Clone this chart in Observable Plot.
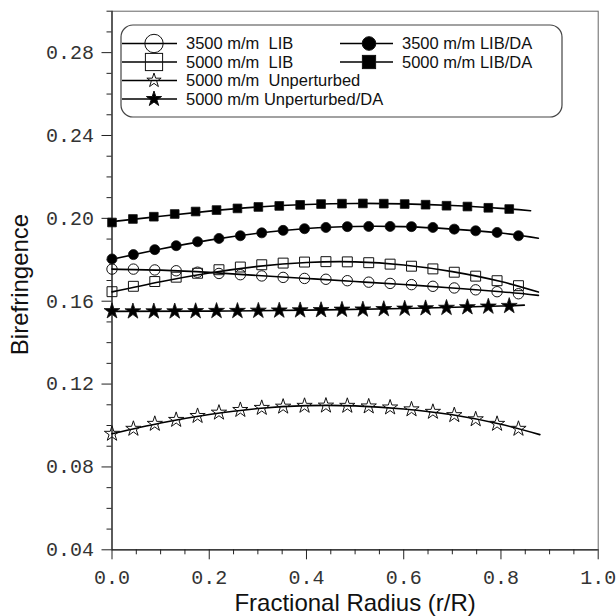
<!DOCTYPE html>
<html><head><meta charset="utf-8">
<script src="https://cdn.jsdelivr.net/npm/d3@7"></script>
<script src="https://cdn.jsdelivr.net/npm/@observablehq/plot@0.6"></script>
<style>
html,body{margin:0;padding:0;background:#fff;}
#wrap{position:relative;width:616px;height:616px;}
#legend{position:absolute;left:0;top:0;pointer-events:none;}
</style></head><body><div id="wrap"></div>
<script>
// ---- data ----
const seriesLabels = ["3500 m/m  LIB", "5000 m/m  LIB", "5000 m/m  Unperturbed", "5000 m/m Unperturbed/DA", "3500 m/m LIB/DA", "5000 m/m LIB/DA"];
const xLIB = [0.000,0.044,0.088,0.132,0.176,0.220,0.264,0.308,0.352,0.396,0.440,0.484,0.528,0.572,0.616,0.660,0.704,0.748,0.792,0.836];
const xDA  = [0.000,0.043,0.086,0.129,0.172,0.215,0.258,0.301,0.344,0.387,0.430,0.473,0.516,0.559,0.602,0.645,0.688,0.731,0.774,0.817];
const yLIB3500   = [0.1755,0.1755,0.1751,0.1747,0.1740,0.1734,0.1728,0.1722,0.1715,0.1710,0.1706,0.1699,0.1692,0.1686,0.1680,0.1672,0.1664,0.1655,0.1646,0.1636];
const yLIB5000   = [0.1646,0.1672,0.1695,0.1716,0.1735,0.1752,0.1765,0.1776,0.1784,0.1789,0.1791,0.1790,0.1786,0.1779,0.1769,0.1756,0.1740,0.1721,0.1699,0.1675];
const yUnpert    = [0.0960,0.0984,0.1008,0.1027,0.1046,0.1062,0.1075,0.1085,0.1091,0.1095,0.1096,0.1095,0.1092,0.1087,0.1078,0.1066,0.1050,0.1030,0.1008,0.0984];
const yUnpertDA  = [0.1552,0.1551,0.1551,0.1551,0.1552,0.1553,0.1553,0.1554,0.1555,0.1556,0.1557,0.1559,0.1560,0.1562,0.1564,0.1566,0.1568,0.1571,0.1574,0.1577];
const yDA3500    = [0.1804,0.1825,0.1849,0.1868,0.1887,0.1903,0.1916,0.1930,0.1942,0.1950,0.1956,0.1960,0.1961,0.1961,0.1960,0.1956,0.1948,0.1940,0.1932,0.1916];
const yDA5000    = [0.1980,0.1997,0.2008,0.2021,0.2033,0.2040,0.2048,0.2055,0.2060,0.2065,0.2069,0.2071,0.2072,0.2071,0.2069,0.2066,0.2061,0.2057,0.2051,0.2045];
// fitted curves
const fitXLIB3500 = [0,0.1,0.2,0.3,0.4,0.5,0.6,0.7,0.8,0.877];
const fitYLIB3500 = [0.1755,0.1750,0.1739,0.1724,0.1710,0.1695,0.1681,0.1664,0.1646,0.1628];
const fitXLIB5000 = [0,0.1,0.2,0.3,0.4,0.5,0.6,0.7,0.8,0.877];
const fitYLIB5000 = [0.1645,0.1694,0.1736,0.1768,0.1787,0.1790,0.1775,0.1743,0.1695,0.1644];
const fitXUnpert  = [0,0.1,0.2,0.3,0.4,0.5,0.6,0.7,0.8,0.880];
const fitYUnpert  = [0.0960,0.1012,0.1053,0.1082,0.1096,0.1095,0.1080,0.1052,0.1006,0.0956];
const fitXUnpertDA = [0,0.2,0.4,0.6,0.8,0.848];
const fitYUnpertDA = [0.1551,0.1552,0.1557,0.1565,0.1577,0.1581];
const fitXDA3500  = [0,0.1,0.2,0.3,0.4,0.5,0.6,0.7,0.8,0.877];
const fitYDA3500  = [0.1803,0.1852,0.1895,0.1928,0.1951,0.1961,0.1960,0.1948,0.1929,0.1904];
const fitXDA5000  = [0,0.1,0.2,0.3,0.4,0.5,0.6,0.7,0.8,0.861];
const fitYDA5000  = [0.1984,0.2010,0.2035,0.2055,0.2067,0.2072,0.2070,0.2062,0.2048,0.2037];
const xMajorTicks = [0.0,0.2,0.4,0.6,0.8,1.0];
const xMinorTicks = [0.05,0.1,0.15,0.25,0.3,0.35,0.45,0.5,0.55,0.65,0.7,0.75,0.85,0.9,0.95];
const yMajorTicks = [0.04,0.08,0.12,0.16,0.20,0.24,0.28];
const yMinorTicks = [0.05,0.06,0.07,0.09,0.10,0.11,0.13,0.14,0.15,0.17,0.18,0.19,0.21,0.22,0.23,0.25,0.26,0.27,0.29,0.30];
const xTitle = "Fractional Radius (r/R)";
const yTitle = "Birefringence";

// ---- series styling ----
const series = [
  {label: seriesLabels[0], x: xLIB, y: yLIB3500, fx: fitXLIB3500, fy: fitYLIB3500, symbol: "circle", filled: false, r: 5.2},
  {label: seriesLabels[1], x: xLIB, y: yLIB5000, fx: fitXLIB5000, fy: fitYLIB5000, symbol: "square", filled: false, r: 5.6},
  {label: seriesLabels[2], x: xLIB, y: yUnpert, fx: fitXUnpert, fy: fitYUnpert, symbol: "star", filled: false, r: 4.8},
  {label: seriesLabels[3], x: xDA, y: yUnpertDA, fx: fitXUnpertDA, fy: fitYUnpertDA, symbol: "star", filled: true, r: 5.0},
  {label: seriesLabels[4], x: xLIB, y: yDA3500, fx: fitXDA3500, fy: fitYDA3500, symbol: "circle", filled: true, r: 5.0},
  {label: seriesLabels[5], x: xDA, y: yDA5000, fx: fitXDA5000, fy: fitYDA5000, symbol: "square", filled: true, r: 4.9}
];
const fits = series.flatMap(s => s.fx.map((x, i) => ({s: s.label, x, y: s.fy[i]})));

const mono = "'Liberation Mono', 'Courier New', monospace";
const sans = "'Liberation Sans', Arial, Helvetica, sans-serif";

const marks = [
  Plot.frame({stroke: "#666", strokeWidth: 1}),
  Plot.ruleX([0], {stroke: "#222", strokeWidth: 1.2}),
  Plot.ruleY([0.04], {stroke: "#222", strokeWidth: 1.2}),
  Plot.axisX({ticks: xMinorTicks, tickSize: 5, tickFormat: () => "", label: null, stroke: "#222"}),
  Plot.axisX({ticks: xMajorTicks, tickSize: 10, tickPadding: 10, tickFormat: d3.format(".1f"), label: null,
    fontSize: 20, fontFamily: mono, fill: "#333", stroke: "#222"}),
  Plot.axisY({ticks: yMinorTicks, tickSize: 5, tickFormat: () => "", label: null, stroke: "#222"}),
  Plot.axisY({ticks: yMajorTicks, tickSize: 10, tickPadding: 8, tickFormat: d3.format(".2f"), label: null,
    fontSize: 20, fontFamily: mono, fill: "#333", stroke: "#222"}),
  Plot.line(fits, {x: "x", y: "y", z: "s", curve: "natural", stroke: "black", strokeWidth: 1.6}),
  ...series.map(s => Plot.dot(s.x.map((x, i) => ({x, y: s.y[i]})), {
    x: "x", y: "y", symbol: s.symbol, r: s.r,
    fill: s.filled ? "black" : "none", stroke: "#111", strokeWidth: s.filled ? 0.8 : 1
  })),
  Plot.text([yTitle], {frameAnchor: "left", dx: -92, dy: 4, rotate: -90, textAnchor: "middle", lineAnchor: "middle",
    fontSize: 24, fontFamily: sans, fill: "#111"}),
  Plot.text([xTitle], {frameAnchor: "bottom", dy: 54, textAnchor: "middle", lineAnchor: "middle",
    fontSize: 24, fontFamily: sans, fill: "#111"})
];

const chart = Plot.plot({
  width: 616, height: 616,
  marginLeft: 111.5, marginRight: 18.3, marginTop: 10.7, marginBottom: 66.7,
  x: {domain: [0, 1]},
  y: {domain: [0.04, 0.30]},
  style: {background: "white", overflow: "visible"},
  marks
});
document.getElementById("wrap").appendChild(chart);

// ---- legend overlay ----
const lg = d3.select("#wrap").append("svg").attr("id", "legend").attr("width", 616).attr("height", 130);
lg.append("rect").attr("x", 121).attr("y", 25).attr("width", 441).attr("height", 92).attr("rx", 12)
  .attr("fill", "white").attr("stroke", "#444").attr("stroke-width", 1.2);
const legendPos = [
  {lx1: 122, lx2: 177, sx: 154, tx: 186, y: 43.5, size: 9.2},
  {lx1: 122, lx2: 177, sx: 154, tx: 186, y: 62, size: 8.6},
  {lx1: 122, lx2: 177, sx: 154, tx: 186, y: 80.5, size: 7.5},
  {lx1: 122, lx2: 177, sx: 154, tx: 186, y: 99, size: 8},
  {lx1: 340, lx2: 393, sx: 369, tx: 402, y: 43.5, size: 6.8},
  {lx1: 340, lx2: 393, sx: 369, tx: 402, y: 62, size: 6.6}
];
series.forEach((s, i) => {
  const p = legendPos[i];
  lg.append("line").attr("x1", p.lx1).attr("x2", p.lx2).attr("y1", p.y).attr("y2", p.y)
    .attr("stroke", "black").attr("stroke-width", 1.6);
  const fill = s.filled ? "black" : "none";
  if (s.symbol === "circle") {
    lg.append("circle").attr("cx", p.sx).attr("cy", p.y).attr("r", p.size).attr("fill", fill).attr("stroke", "#111");
  } else if (s.symbol === "square") {
    lg.append("rect").attr("x", p.sx - p.size).attr("y", p.y - p.size).attr("width", 2 * p.size).attr("height", 2 * p.size)
      .attr("fill", fill).attr("stroke", "#111");
  } else {
    const area = p.size * p.size / 0.8908130915292852;
    lg.append("path").attr("d", d3.symbol(d3.symbolStar, area)()).attr("transform", `translate(${p.sx},${p.y})`)
      .attr("fill", fill).attr("stroke", "#111");
  }
  lg.append("text").attr("x", p.tx).attr("y", p.y).attr("dy", "0.36em").attr("font-family", sans)
    .attr("font-size", 16.5).attr("fill", "#111").style("white-space", "pre").text(s.label);
});
</script>
</body></html>
